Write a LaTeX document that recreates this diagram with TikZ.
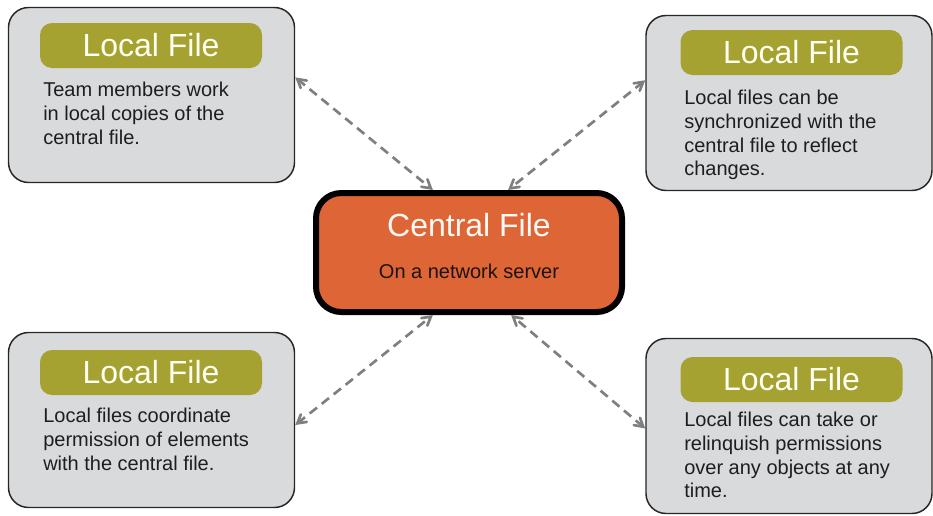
\documentclass[tikz,border=0pt]{standalone}
\usepackage{fontspec}
\setmainfont{Liberation Sans}
\usetikzlibrary{arrows}
\definecolor{boxgray}{HTML}{D9DADC}
\definecolor{headgreen}{HTML}{A5A232}
\definecolor{centralorange}{HTML}{DE6536}
\definecolor{linkgray}{HTML}{7F7F7F}
\definecolor{textdark}{HTML}{1E1E1E}

\begin{document}
\begin{tikzpicture}[x=0.75pt, y=-0.75pt, <->, >=angle 60,
    local/.style={rectangle, rounded corners=15pt, draw=black!85, line width=1.1pt, fill=boxgray, minimum width=214.5pt, minimum height=131.25pt},
    head/.style={rectangle, rounded corners=9pt, fill=headgreen, text=white!95!yellow, minimum width=166.5pt, minimum height=33.75pt, inner sep=0pt, font=\fontsize{24}{28}\selectfont},
    body/.style={anchor=north west, align=left, inner sep=0pt, text=textdark, font=\fontsize{15}{17.75}\selectfont},
    central/.style={rectangle, rounded corners=19pt, draw=black, line width=4.5pt, fill=centralorange, minimum width=229.5pt, minimum height=89.25pt},
    link/.style={draw=linkgray, line width=2pt, dash pattern=on 7pt off 4.5pt}]
  \useasboundingbox (0,0) rectangle (933,515);

  \node[central] (C) at (469,252.5) {};
  \node[inner sep=0pt, text=white!96!orange, font=\fontsize{24}{28}\selectfont] (Ctitle) at (469,225) {Central File};
  \node[inner sep=0pt, text=black!85!brown, font=\fontsize{15}{18}\selectfont] (Csub) at (469,271.5) {On a network server};

  \node[local] (L1) at (151.5,95) {};
  \node[head] (H1) at (151,45.5) {Local File};
  \node[body] (T1) at (43,82) {Team members work\\in local copies of the\\central file.};

  \node[local] (L2) at (789,103) {};
  \node[head] (H2) at (791.5,52.5) {Local File};
  \node[body] (T2) at (684,90) {Local files can be\\synchronized with the\\central file to reflect\\changes.};

  \node[local] (L3) at (151.5,420) {};
  \node[head] (H3) at (151,372.5) {Local File};
  \node[body] (T3) at (43,408) {Local files coordinate\\permission of elements\\with the central file.};

  \node[local] (L4) at (789,426) {};
  \node[head] (H4) at (791.5,379.5) {Local File};
  \node[body] (T4) at (684,412) {Local files can take or\\relinquish permissions\\over any objects at any\\time.};

  \draw[link] (L1.7) -- (C.120);
  \draw[link] (L2.171) -- (C.58);
  \draw[link] (L3.358) -- (C.240);
  \draw[link] (L4.181) -- (C.304); % in basso a destra
\end{tikzpicture}
\end{document}
